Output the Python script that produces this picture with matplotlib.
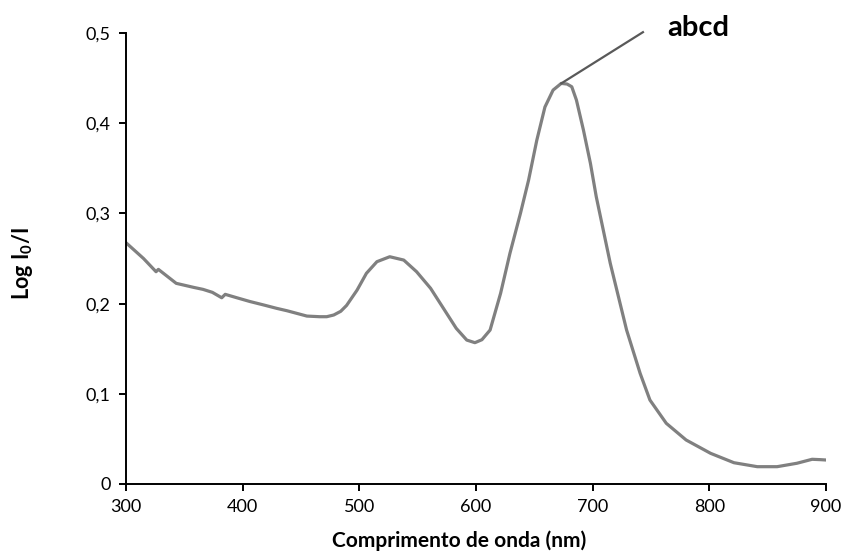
import matplotlib.pyplot as plt

plt.rcParams['font.family'] = ['Lato', 'DejaVu Sans']
plt.rcParams['mathtext.fontset'] = 'custom'
plt.rcParams['mathtext.rm'] = 'Lato'
plt.rcParams['mathtext.bf'] = 'Lato:bold'

# absorption spectrum
wavelength = [300, 315, 325.7, 327.7, 343, 358, 366, 374, 382, 385, 395, 406,
              418, 429, 438, 455, 466, 472, 478, 484, 489, 498, 506, 515, 526,
              538, 549, 561, 572, 583, 592, 599, 605, 612, 621, 629, 638, 645,
              652, 659, 666, 673, 678, 682, 686, 692, 698, 703, 709, 715, 722,
              729, 740.6, 749, 763, 780, 801, 821, 841, 858, 875, 888, 895, 900]
absorbance = [0.2675, 0.250, 0.2354, 0.238, 0.2225, 0.218, 0.2158, 0.2125,
              0.2065, 0.2103, 0.2065, 0.2024, 0.1985, 0.1948, 0.1921, 0.1862,
              0.1855, 0.1855, 0.1874, 0.1915, 0.198, 0.215, 0.2336, 0.2465,
              0.252, 0.2483, 0.2354, 0.217, 0.1948, 0.1726, 0.1596, 0.1567,
              0.160, 0.1707, 0.2114, 0.2557, 0.300, 0.337, 0.381, 0.418,
              0.4368, 0.4442, 0.4435, 0.4405, 0.4257, 0.3925, 0.3555, 0.3185,
              0.2816, 0.2447, 0.2077, 0.1707, 0.1227, 0.0931, 0.0673, 0.0488,
              0.034, 0.0236, 0.0192, 0.0192, 0.023, 0.0274, 0.027, 0.0266]

xticks = [300, 400, 500, 600, 700, 800, 900]
yticks = [0, 0.1, 0.2, 0.3, 0.4, 0.5]
ytick_labels = ['0', '0,1', '0,2', '0,3', '0,4', '0,5']

peak_label = 'abcd'
peak_x, peak_y = 673, 0.4442

fig = plt.figure(figsize=(8.46, 5.56), dpi=100)
ax = fig.add_axes([0.149, 0.1295, 0.8275, 0.811])

ax.plot(wavelength, absorbance, color='#808080', lw=2.3,
        solid_capstyle='round', solid_joinstyle='round')

ax.set_xlim(300, 900)
ax.set_ylim(0, 0.5)
ax.set_xticks(xticks)
ax.set_yticks(yticks)
ax.set_yticklabels(ytick_labels)

for s in ['top', 'right']:
    ax.spines[s].set_visible(False)
for s in ['left', 'bottom']:
    ax.spines[s].set_linewidth(1.4)
    ax.spines[s].set_color('black')
ax.tick_params(direction='out', length=5, width=1.4, labelsize=13, pad=6)

ax.set_xlabel('Comprimento de onda (nm)', fontsize=15, fontweight='bold')
ax.set_ylabel(r'Log I$_\mathbf{0}$/I', fontsize=15.5, fontweight='bold')
ax.xaxis.set_label_coords(0.476, -0.104)
ax.yaxis.set_label_coords(-0.13, 0.488)

# leader line from the main peak up to its label
ax.plot([peak_x, 743], [peak_y, 0.501], color='#595959', lw=1.6, clip_on=False)
ax.text(764, 0.5055, peak_label, fontsize=21, fontweight='bold',
        ha='left', va='center', clip_on=False)

fig.savefig('out.png', dpi=100)
